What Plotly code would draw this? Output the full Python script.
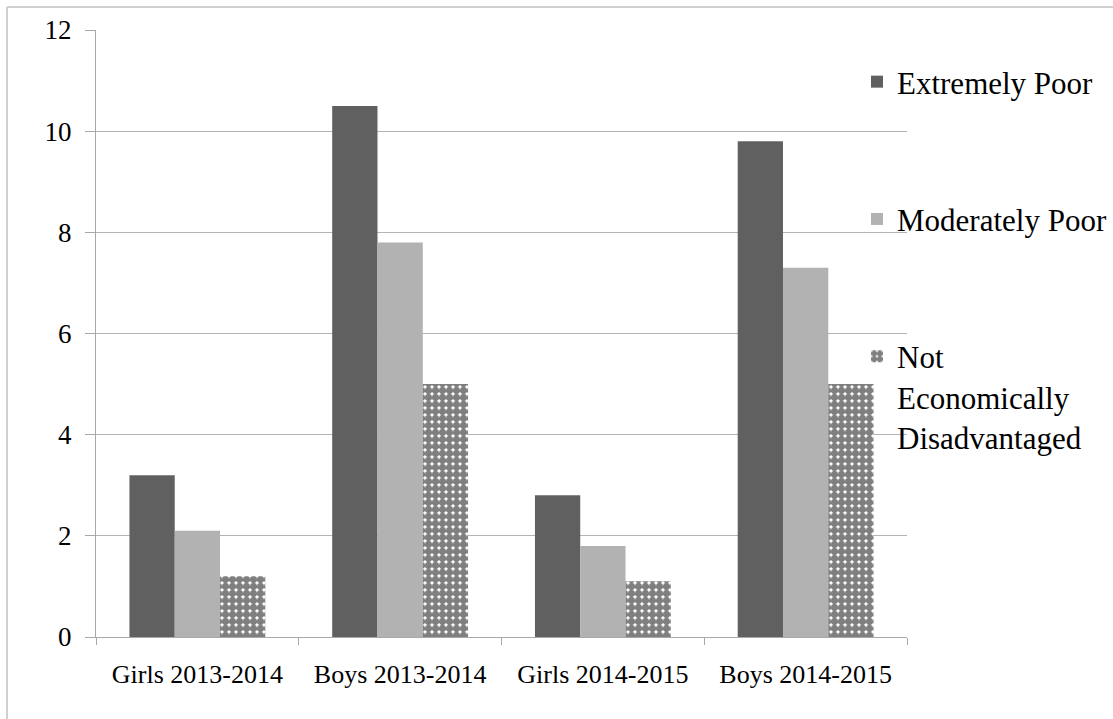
import plotly.graph_objects as go

categories = ["Girls 2013-2014", "Boys 2013-2014", "Girls 2014-2015", "Boys 2014-2015"]
extremely_poor = [3.2, 10.5, 2.8, 9.8]
moderately_poor = [2.1, 7.8, 1.8, 7.3]
not_disadvantaged = [1.2, 5.0, 1.1, 5.0]
y_ticks = [0, 2, 4, 6, 8, 10, 12]

W, H = 1113, 719
L, R, T, B = 96, 206, 30, 82
pw, ph = W - L - R, H - T - B
SERIF = "Times New Roman, Liberation Serif, serif"

def px_x(x):
    return (x - L) / pw

def px_y(y):
    return (H - B - y) / ph

fig = go.Figure()
fig.add_trace(go.Bar(x=categories, y=extremely_poor, name="Extremely Poor",
                     marker=dict(color="#606060", line=dict(width=0)), legendgroup="a"))
fig.add_trace(go.Bar(x=categories, y=moderately_poor, name="Moderately Poor",
                     marker=dict(color="#b2b2b2", line=dict(width=0)), legendgroup="b"))
fig.add_trace(go.Bar(x=categories, y=not_disadvantaged, name="Not<br>Economically<br>Disadvantaged",
                     marker=dict(color="white", line=dict(width=0),
                                 pattern=dict(shape=".", fgcolor="black", bgcolor="white",
                                              size=7, solidity=0.8, fillmode="overlay")),
                     legendgroup="c"))

fig.update_layout(
    width=W, height=H,
    margin=dict(l=L, r=R, t=T, b=B, autoexpand=False),
    paper_bgcolor="white", plot_bgcolor="white",
    barmode="group", bargap=0.33, bargroupgap=0,
    font=dict(family=SERIF, color="black"),
    showlegend=True,
    legend=dict(x=px_x(857), y=px_y(55), xanchor="left", yanchor="top",
                font=dict(size=31, family=SERIF, color="black"),
                bgcolor="rgba(0,0,0,0)", tracegroupgap=94, valign="top",
                traceorder="grouped"),
    xaxis=dict(type="category", tickson="boundaries", ticks="outside", ticklen=7,
               tickcolor="#a8a8a8", showline=True, linecolor="#a8a8a8", linewidth=1,
               showgrid=False, automargin=False, ticklabelstandoff=14,
               tickfont=dict(size=26, family=SERIF, color="black")),
    yaxis=dict(range=[0, 12], tickvals=y_ticks, ticks="outside", ticklen=10,
               tickcolor="#a8a8a8", showline=True, linecolor="#a8a8a8", linewidth=1,
               showgrid=True, gridcolor="#b4b4b4", gridwidth=1, zeroline=False,
               automargin=False,
               tickfont=dict(size=27, family=SERIF, color="black"), ticklabelstandoff=8),
    shapes=[
        dict(type="line", xref="paper", yref="paper", x0=px_x(7), x1=px_x(1113), y0=px_y(7), y1=px_y(7),
             line=dict(color="#d0d0d0", width=2)),
        dict(type="line", xref="paper", yref="paper", x0=px_x(7), x1=px_x(7), y0=px_y(7), y1=px_y(719),
             line=dict(color="#d0d0d0", width=2)),
    ],
)

fig.write_html("out.html")
